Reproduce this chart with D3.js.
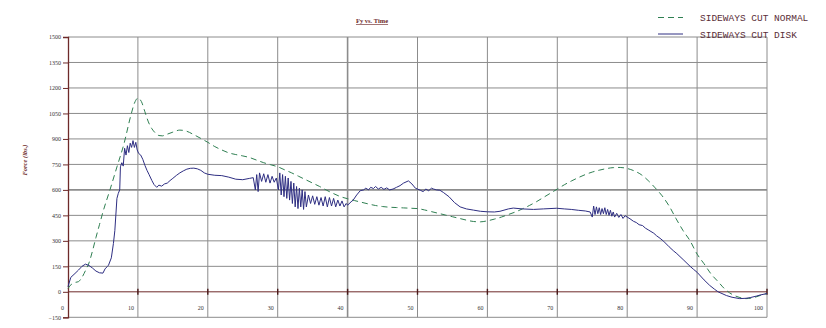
<!DOCTYPE html>
<html>
<head>
<meta charset="utf-8">
<script src="https://cdn.jsdelivr.net/npm/d3@7"></script>
<style>
  body { margin: 0; background: #fff; }
  svg { display: block; }
</style>
</head>
<body>
<div id="chart"></div>
<script>
const width = 826;
const height = 328;

const chartTitle = "Fy vs. Time";
const yLabel = "Force (lbs.)";
const seriesNames = ["SIDEWAYS CUT NORMAL", "SIDEWAYS CUT DISK"];
const xTicks = [0, 10, 20, 30, 40, 50, 60, 70, 80, 90, 100];
const yTicks = [1500, 1350, 1200, 1050, 900, 750, 600, 450, 300, 150, 0, -150];

// time / force pairs
const normalT = [0,0.5,1,1.5,2,2.5,3,3.5,4,4.5,5,6,7,8,9,9.5,10,10.5,11,11.5,12,12.5,13,13.5,14,15,16,17,18,19,20,21,22,23,24,25,26,27,28,29,30,31,32,33,34,35,36,37,38,39,40,41,42,43,44,45,46,47,48,49,50,51,52,53,54,55,56,57,58,59,60,61,62,63,64,65,66,67,68,69,70,71,72,73,74,75,76,77,78,79,80,81,82,83,84,85,86,87,88,89,90,91,92,93,94,95,96,97,98,99,100];
const normalF = [20,45,55,60,85,125,170,240,320,395,470,600,735,870,1040,1110,1140,1120,1060,1000,960,935,920,918,925,940,952,945,925,903,880,855,835,818,808,800,790,775,760,748,736,718,700,680,660,640,620,598,578,560,548,537,527,517,508,502,498,496,494,492,490,482,472,462,452,442,432,422,414,412,418,428,440,455,470,488,508,530,555,580,605,630,652,672,690,705,716,725,731,732,726,712,690,655,612,565,505,430,360,300,222,165,105,60,15,-15,-32,-40,-35,-22,-10];

const diskT = [0,0.4,1,1.5,2,2.5,3,3.5,4,4.5,5,5.3,5.6,5.8,6.2,6.5,6.7,7,7.2,7.4,7.5,7.7,7.9,8.1,8.3,8.5,8.7,8.9,9.1,9.3,9.5,9.7,9.9,10.1,10.4,10.7,11,11.3,11.6,12,12.3,12.7,13,13.4,13.8,14.2,14.6,15,15.5,16,16.5,17,17.5,18,18.5,19,19.5,20,21,22,23,24,25,26,26.5,
  26.8,27,27.2,27.4,27.7,28,28.3,28.6,28.9,29.2,29.5,29.8,30.1,30.3,30.5,30.7,30.9,31.1,31.3,31.5,31.7,31.9,32.1,32.3,32.5,32.7,32.9,33.1,33.3,33.5,33.7,33.9,34.1,34.4,34.7,35,35.3,35.6,35.9,36.2,36.5,36.8,37.1,37.4,37.7,38,38.3,38.6,38.9,39.2,39.5,39.8,
  40,40.5,40.8,41.3,41.8,42.3,42.6,43,43.3,43.7,44,44.4,44.8,45.2,45.6,46,46.5,47,47.5,48,48.7,49.2,49.7,50.4,50.8,51.2,51.6,52,52.3,52.7,53.2,53.7,54.5,55.3,56.1,57,58,59,60,61,61.8,63,63.7,65,66.6,68,69.9,71,72,73,74,74.7,
  75,75.2,75.4,75.6,75.8,76,76.2,76.4,76.6,76.8,77,77.2,77.4,77.6,77.8,78,78.2,78.5,78.8,79.1,79.4,79.7,80,80.4,80.9,81.3,81.7,82.2,82.6,83,83.4,83.8,84.2,84.7,85.2,86,86.6,87.1,88,89,89.5,90,91,91.8,92.5,93,94.2,95,96.1,97,97.6,98.5,99,100];
const diskF = [30,85,108,128,150,163,155,140,122,112,110,135,148,157,200,285,360,550,580,600,736,760,740,845,805,860,820,875,850,890,850,880,835,815,805,780,745,715,690,655,632,615,628,622,635,640,655,668,685,700,712,722,727,728,724,715,700,692,686,684,675,663,660,668,672,
  600,690,590,700,650,695,645,690,640,680,645,670,600,700,570,690,560,680,550,670,540,650,520,640,500,620,490,610,500,600,485,590,500,570,520,565,515,560,510,555,505,560,500,555,505,550,500,540,505,535,500,520,
  510,530,540,570,595,600,610,600,615,608,620,605,615,603,612,600,605,615,625,640,653,635,610,598,590,605,595,610,605,600,598,585,560,525,500,488,481,474,471,470,474,488,493,488,485,488,492,488,485,480,476,470,
  440,505,455,500,460,495,455,490,460,495,455,485,450,480,445,470,440,462,438,455,432,448,440,430,415,408,395,390,375,365,355,345,330,315,298,265,242,225,190,150,132,115,70,38,15,0,-22,-32,-40,-38,-34,-25,-19,-10];

const normal = normalT.map((t, i) => ({t, f: normalF[i]}));
const disk = diskT.map((t, i) => ({t, f: diskF[i]}));

const plotLeft = 68, plotRight = 767, plotTop = 37, plotBottom = 317.3;
const x = d3.scaleLinear().domain([0, 100]).range([plotLeft, plotRight]);
const y = d3.scaleLinear().domain([-150, 1500]).range([plotBottom, plotTop]);

const maroon = "#6e2a2a";
const gridColor = "#8c8c8c";

const svg = d3.select("#chart").append("svg")
    .attr("width", width)
    .attr("height", height);

// grid
svg.append("g")
    .selectAll("line")
    .data(yTicks.filter(v => v !== 0))
    .join("line")
    .attr("x1", plotLeft).attr("x2", plotRight)
    .attr("y1", d => y(d)).attr("y2", d => y(d))
    .attr("stroke", gridColor)
    .attr("stroke-width", d => d === 600 ? 1.6 : 1);

svg.append("g")
    .selectAll("line")
    .data(xTicks.filter(v => v !== 0))
    .join("line")
    .attr("x1", d => x(d)).attr("x2", d => x(d))
    .attr("y1", plotTop).attr("y2", plotBottom)
    .attr("stroke", gridColor)
    .attr("stroke-width", d => d === 40 ? 1.6 : 1);

// zero line + ticks on it
svg.append("line")
    .attr("x1", plotLeft).attr("x2", plotRight)
    .attr("y1", y(0)).attr("y2", y(0))
    .attr("stroke", maroon);

svg.append("g")
    .selectAll("line")
    .data(xTicks.filter(v => v !== 0))
    .join("line")
    .attr("x1", d => x(d)).attr("x2", d => x(d))
    .attr("y1", y(0) - 3).attr("y2", y(0) + 3)
    .attr("stroke", "#4a1a1a")
    .attr("stroke-width", 1.4);

// y axis
const yAxis = svg.append("g")
    .attr("transform", `translate(${plotLeft},0)`)
    .call(d3.axisLeft(y).tickValues(yTicks).tickFormat(d3.format("d")).tickSize(5).tickPadding(2));
yAxis.select(".domain").attr("stroke", maroon).attr("stroke-width", 1.3);
yAxis.selectAll(".tick line").attr("stroke", maroon);
yAxis.selectAll(".tick text")
    .attr("fill", "#333")
    .attr("font-family", "Liberation Serif")
    .attr("font-size", 6);

// x tick labels sit left of each gridline, above the bottom
svg.append("g")
    .selectAll("text")
    .data(xTicks)
    .join("text")
    .attr("x", d => x(d) - 4)
    .attr("y", 310)
    .attr("text-anchor", "end")
    .attr("fill", "#333")
    .attr("font-family", "Liberation Serif")
    .attr("font-size", 6)
    .text(d => d);

// lines
const line = d3.line().x(d => x(d.t)).y(d => y(d.f));

svg.append("path")
    .datum(normal)
    .attr("fill", "none")
    .attr("stroke", "#2f7f52")
    .attr("stroke-width", 1)
    .attr("stroke-dasharray", "6,4")
    .attr("d", d3.line().curve(d3.curveMonotoneX).x(d => x(d.t)).y(d => y(d.f)));

svg.append("path")
    .datum(disk)
    .attr("fill", "none")
    .attr("stroke", "#2e2e82")
    .attr("stroke-width", 1)
    .attr("d", line);

// title
svg.append("text")
    .attr("x", 372).attr("y", 23)
    .attr("text-anchor", "middle")
    .attr("fill", maroon)
    .attr("font-family", "Liberation Serif")
    .attr("font-weight", "bold")
    .attr("font-size", 6.5)
    .attr("text-decoration", "underline")
    .text(chartTitle);

// y label
svg.append("text")
    .attr("transform", "translate(27,160) rotate(-90)")
    .attr("text-anchor", "middle")
    .attr("fill", maroon)
    .attr("font-family", "Liberation Serif")
    .attr("font-style", "italic")
    .attr("font-weight", "bold")
    .attr("font-size", 6.5)
    .text(yLabel);

// legend
const legend = svg.append("g");
const legendColors = ["#2f7f52", "#2e2e82"];
const legendDash = ["6,4", null];
seriesNames.forEach((name, i) => {
  const ly = 17.5 + i * 16.5;
  legend.append("line")
      .attr("x1", 658).attr("x2", 683)
      .attr("y1", ly).attr("y2", ly)
      .attr("stroke", legendColors[i])
      .attr("stroke-dasharray", legendDash[i]);
  legend.append("text")
      .attr("x", 700).attr("y", ly + 3.5)
      .attr("fill", "#5a2e38")
      .attr("font-family", "Liberation Mono")
      .attr("font-size", 9.5)
      .text(name);
});
</script>
</body>
</html>
